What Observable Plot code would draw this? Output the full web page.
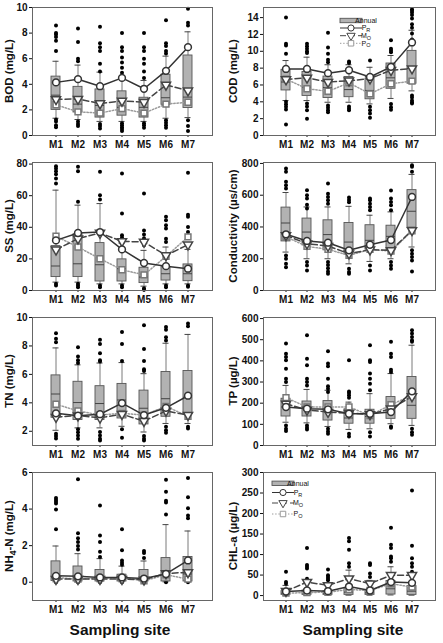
<!DOCTYPE html>
<html>
<head>
<meta charset="utf-8">
<script src="https://cdn.jsdelivr.net/npm/d3@7"></script>
<script src="https://cdn.jsdelivr.net/npm/@observablehq/plot@0.6"></script>
<style>
  body { margin: 0; background: #fff; font-family: Arial, "Liberation Sans", sans-serif; }
  #fig { position: relative; width: 443px; height: 643px; overflow: hidden; }
  #fig svg { position: absolute; }
  .xtitle { position: absolute; font-weight: bold; font-size: 15.5px; color: #111; transform: translateX(-50%); white-space: nowrap; }
</style>
</head>
<body>
<div id="fig"></div>
<script>
// Sampling sites along the river
const sites = ["M1", "M2", "M3", "M4", "M5", "M6", "M7"];

// Box statistics per site: [10th pct, 25th pct, median, 75th pct, 90th pct]
// Seasonal means per site: PR, MO, PO; outliers: values beyond the whiskers

// BOD (mg/L)
const bodTicks = [0, 2, 4, 6, 8, 10];
const bodBox = [
  [1.35, 2.0, 3.15, 4.6, 5.8],
  [1.25, 1.8, 2.45, 3.8, 5.5],
  [1.1, 1.4, 2.35, 3.6, 4.95],
  [1.1, 1.55, 2.2, 3.45, 4.4],
  [1.1, 1.4, 2.2, 2.95, 4.3],
  [1.35, 2.4, 2.95, 4.75, 6.2],
  [1.4, 2.15, 3.0, 6.25, 8.1]
];
const bodPR = [4.15, 4.4, 3.85, 4.5, 3.65, 5.05, 6.9];
const bodMO = [2.83, 2.85, 2.5, 2.7, 2.6, 3.95, 3.5];
const bodPO = [2.4, 1.85, 1.75, 2.1, 1.75, 2.45, 2.6];
const bodOut = [
  [8.6, 8.0, 7.9, 7.7, 7.4, 6.6, 1.25, 1.1, 0.8, 0.65],
  [8.35, 7.3, 6.0, 5.8, 1.1, 0.9, 0.75],
  [8.5, 7.2, 6.9, 6.6, 5.6, 5.0, 0.9, 0.75, 0.55],
  [8.0, 6.9, 6.6, 6.1, 5.7, 5.3, 4.9, 4.6, 0.95, 0.8, 0.65, 0.5, 0.35],
  [8.0, 6.9, 6.6, 6.0, 5.6, 5.0, 4.5, 0.95, 0.8, 0.6],
  [9.0, 7.2, 7.0, 6.6, 6.4, 1.2, 1.0, 0.8, 0.6],
  [9.9, 8.8, 8.6, 1.2, 0.75, 0.35]
];

// COD (mg/L)
const codTicks = [0, 2, 4, 6, 8, 10, 12, 14];
const codBox = [
  [4.15, 5.35, 6.35, 7.8, 8.9],
  [4.15, 4.7, 5.75, 7.55, 9.3],
  [3.95, 4.45, 5.7, 7.0, 8.4],
  [3.95, 4.55, 5.45, 6.95, 8.4],
  [3.75, 4.3, 5.35, 6.75, 8.1],
  [4.4, 5.55, 6.85, 8.55, 9.5],
  [5.3, 6.15, 7.95, 10.05, 12.5]
];
const codPR = [7.9, 7.9, 7.4, 7.75, 6.95, 8.15, 11.05];
const codMO = [6.65, 6.85, 6.35, 6.5, 6.75, 7.75, 7.95];
const codPO = [6.7, 5.55, 5.25, 6.25, 4.95, 6.15, 6.45];
const codOut = [
  [14.0, 10.9, 10.7, 9.7, 4.0, 3.7, 3.4, 3.1, 1.3],
  [10.9, 10.6, 10.3, 10.0, 9.8, 3.8, 3.45, 3.0, 2.0],
  [12.2, 10.45, 9.7, 9.0, 8.7, 3.55, 3.3, 3.0, 2.75],
  [8.8, 8.6, 3.45, 3.2, 3.0],
  [8.9, 3.4, 3.0, 2.6, 2.1],
  [11.3, 10.3, 10.1, 9.9, 3.75, 3.35, 3.05],
  [15.0, 14.8, 14.6, 14.3, 13.9, 13.2, 12.8, 12.1, 11.4, 4.75, 4.5, 4.15, 3.95, 3.8]
];

// SS (mg/L)
const ssTicks = [0, 20, 40, 60, 80];
const ssBox = [
  [5.3, 8.5, 15.5, 28.1, 63.5],
  [5.3, 8.5, 16.9, 35.6, 54],
  [4.2, 5.7, 16.3, 30, 55],
  [4.2, 5.7, 13.8, 19.7, 30],
  [2.75, 4.7, 8.5, 14.4, 25.4],
  [4.2, 6.3, 10.6, 14.8, 27.5],
  [4.2, 5.9, 10.6, 16.5, 26]
];
const ssPR = [31.7, 36.4, 37, 26, 17.4, 15.4, 13.8];
const ssMO = [25.8, 32.8, 36.4, 31.1, 30.7, 22.2, 29];
const ssPO = [34.3, 27.5, 20.1, 13.1, 9.9, 21.6, 33.9];
const ssOut = [
  [78.7, 77.2, 75.5, 73.6, 70.9, 67.7, 4.2, 3.2],
  [78.3, 75.5, 56.1, 4.2, 3.2, 2.1],
  [75.1, 60.3, 57.6, 3.2, 2.1],
  [74, 48.7, 34.9, 33.5, 32, 3.2, 2.1],
  [61.4, 38, 35.5, 33, 30.7, 28.6, 1.5, 0.4],
  [46.6, 44.4, 41.3, 39.2, 32.8, 30.7, 3.2, 2.1],
  [74.5, 48, 46.6, 40.2, 37, 3.2, 2.4]
];

// Conductivity (µs/cm)
const ecTicks = [0, 200, 400, 600, 800];
const ecBox = [
  [242, 309, 425, 522, 617],
  [200, 284, 368, 453, 526],
  [200, 253, 352, 442, 526],
  [168, 227, 305, 425, 530],
  [183, 257, 316, 411, 474],
  [200, 253, 341, 408, 495],
  [274, 396, 499, 632, 731]
];
const ecPR = [354, 312, 301, 253, 288, 318, 589];
const ecMO = [347, 295, 280, 232, 257, 253, 379];
const ecPO = [337, 278, 259, 221, 259, 248, 375];
const ecOut = [
  [768, 747, 684, 663, 642, 221, 200, 168, 147],
  [632, 600, 579, 540, 516, 179, 158, 126],
  [674, 610, 589, 568, 547, 179, 160, 140, 120, 105],
  [585, 570, 555, 137, 116, 105],
  [579, 568, 547, 526, 505, 158, 126],
  [630, 579, 558, 537, 505, 179, 158, 137],
  [789, 779, 747, 253, 232, 211, 189, 120]
];

// TN (mg/L)
const tnTicks = [2, 4, 6, 8, 10];
const tnBox = [
  [2.07, 2.95, 4.62, 5.93, 7.86],
  [2.24, 2.79, 4.02, 5.48, 6.67],
  [2.24, 2.79, 3.95, 5.17, 6.8],
  [2.35, 2.9, 4.2, 5.33, 6.83],
  [1.95, 2.48, 3.62, 4.86, 6.05],
  [2.55, 3.02, 4.29, 6.17, 8.19],
  [2.55, 3.21, 4.4, 6.24, 8.81]
];
const tnPR = [3.26, 3.1, 3.2, 3.98, 3.14, 3.65, 4.5];
const tnMO = [3.0, 3.1, 2.95, 3.2, 2.71, 3.43, 3.14];
const tnPO = [3.9, 3.43, 3.15, 3.26, 3.14, 3.75, 3.05];
const tnOut = [
  [8.9, 8.5, 8.26, 1.83, 1.67, 1.5],
  [7.9, 7.26, 7.0, 6.8, 2.14, 1.93, 1.71, 1.48],
  [8.43, 8.14, 7.48, 7.0, 6.9, 1.95, 1.71, 1.48, 1.35],
  [8.98, 8.14, 6.95, 2.14, 1.55],
  [9.45, 7.79, 6.95, 6.36, 6.24, 1.67, 1.48, 1.35],
  [9.33, 9.14, 8.62, 8.38, 2.31, 2.07, 1.9],
  [9.57, 9.38, 2.31, 2.19]
];

// TP (µg/L)
const tpTicks = [0, 100, 200, 300, 400, 500, 600];
const tpBox = [
  [110, 137, 182, 221, 284],
  [107, 137, 175, 208, 265],
  [90, 118, 165, 210, 261],
  [76, 103, 130, 171, 205],
  [79, 103, 137, 169, 245],
  [103, 126, 182, 229, 340],
  [95, 126, 190, 324, 474]
];
const tpPR = [182, 174, 171, 150, 150, 158, 256];
const tpMO = [197, 168, 158, 153, 147, 174, 232];
const tpPO = [226, 182, 182, 182, 142, 193, 237];
const tpOut = [
  [482, 434, 418, 403, 363, 316, 300, 95, 79, 68],
  [521, 410, 379, 316, 300, 284, 95, 84, 76],
  [445, 387, 374, 316, 280, 268, 253, 79, 66, 55],
  [403, 255, 248, 237, 226, 55, 43],
  [474, 403, 395, 340, 316, 292, 261, 63, 43],
  [490, 434, 418, 358, 347, 90, 84],
  [545, 529, 513, 497, 490, 79, 63, 51]
];

// NH4-N (mg/L)
const nhTicks = [0, 2, 4, 6];
const nhBox = [
  [0.02, 0.07, 0.26, 1.14, 1.98],
  [0.02, 0.04, 0.26, 0.86, 1.56],
  [0.02, 0.04, 0.2, 0.67, 1.29],
  [0.02, 0.04, 0.17, 0.41, 0.88],
  [0.02, 0.04, 0.17, 0.67, 1.16],
  [0.02, 0.04, 0.35, 1.32, 3.15],
  [0.02, 0.04, 0.45, 1.38, 2.8]
];
const nhPR = [0.35, 0.32, 0.26, 0.26, 0.2, 0.45, 1.19];
const nhMO = [0.17, 0.17, 0.17, 0.17, 0.13, 0.48, 0.54];
const nhPO = [0.26, 0.17, 0.22, 0.26, 0.07, 0.41, 0.17];
const nhOut = [
  [4.6, 4.5, 4.4, 4.3, 3.98, 2.9, 0],
  [5.63, 2.68, 2.4, 2.2, 1.98, 1.79, 0],
  [4.2, 2.55, 2.2, 1.66, 1.38, 0],
  [2.9, 1.75, 1.19, 1.06, 0.95, 0],
  [1.71, 1.6, 1.32, 0],
  [5.6, 4.95, 4.45, 4.36, 3.7, 0],
  [5.7, 4.65, 4.05, 3.65, 3.5, 0]
];

// CHL-a (µg/L)
const chlTicks = [0, 50, 100, 150, 200, 250, 300];
const chlBox = [
  [1, 1.7, 5.8, 10.7, 24.8],
  [1, 1.7, 5.8, 12.4, 33],
  [1, 1.7, 5.8, 10.7, 29],
  [1, 1.7, 8.3, 18.2, 62],
  [1, 1.7, 6.6, 14, 37],
  [1.5, 2.5, 16.5, 35.5, 70.2],
  [1, 1.7, 10.7, 23.1, 53.7]
];
const chlPR = [9.9, 12.4, 10.7, 22, 12.4, 33, 31];
const chlMO = [10.7, 33, 24.8, 41.3, 29, 49.6, 49.6];
const chlPO = [5.8, 7.4, 8.3, 14.9, 12.4, 28.9, 20.7];
const chlOut = [
  [57.9, 33, 29],
  [115.7, 74.4, 70.2, 66, 41.3],
  [63.6, 49.6, 45.5, 41.3, 37.2],
  [140.5, 132.2, 111.6, 78.5, 70.2],
  [78.5, 74.4, 53.7, 45.5],
  [165.3, 124, 115.7, 95, 91, 82.6],
  [256, 121.5, 91, 78.5, 70.2, 57.9]
];

// Styling
const FONT = 'Arial, "Liberation Sans", sans-serif';
const BOX_FILL = "#b2b2b2", BOX_STROKE = "#555";
const PR_STROKE = "#333", MO_STROKE = "#444", PO_STROKE = "#9a9a9a";
const MO_DASH = "6,3", PO_DASH = "1.4,1.8";

// Downward-pointing triangle symbol for the MO series
const triangleDown = {
  draw(ctx, size) {
    const s = Math.sqrt((4 * size) / Math.sqrt(3));
    const h = (Math.sqrt(3) / 2) * s;
    ctx.moveTo(0, (2 * h) / 3);
    ctx.lineTo(s / 2, -h / 3);
    ctx.lineTo(-s / 2, -h / 3);
    ctx.closePath();
  }
};

const panels = [
  {box: bodBox, pr: bodPR, mo: bodMO, po: bodPO, out: bodOut, domain: [0, 10], ticks: bodTicks, label: [["BOD (mg/L)"]], col: 0, row: 0},
  {box: codBox, pr: codPR, mo: codMO, po: codPO, out: codOut, domain: [0, 15.2], ticks: codTicks, label: [["COD (mg/L)"]], col: 1, row: 0, legend: {x: 118, ys: [20.5, 28, 35.7, 43.3], w: 22}},
  {box: ssBox, pr: ssPR, mo: ssMO, po: ssPO, out: ssOut, domain: [0, 81], ticks: ssTicks, label: [["SS (mg/L)"]], col: 0, row: 1},
  {box: ecBox, pr: ecPR, mo: ecMO, po: ecPO, out: ecOut, domain: [0, 806], ticks: ecTicks, label: [["Conductivity (µs/cm)"]], col: 1, row: 1},
  {box: tnBox, pr: tnPR, mo: tnMO, po: tnPO, out: tnOut, domain: [1, 10], ticks: tnTicks, label: [["TN (mg/L)"]], col: 0, row: 2},
  {box: tpBox, pr: tpPR, mo: tpMO, po: tpPO, out: tpOut, domain: [0, 605], ticks: tpTicks, label: [["TP (µg/L)"]], col: 1, row: 2},
  {box: nhBox, pr: nhPR, mo: nhMO, po: nhPO, out: nhOut, domain: [-1, 6], ticks: nhTicks, label: [["NH"], ["4", "sub"], ["-N (mg/L)"]], col: 0, row: 3},
  {box: chlBox, pr: chlPR, mo: chlMO, po: chlPO, out: chlOut, domain: [-12, 300], ticks: chlTicks, label: [["CHL-a (µg/L)"]], col: 1, row: 3, legend: {x: 50, ys: [18.3, 27.5, 38, 49], w: 22}}
];

const PANEL_W = 221, PANEL_H = 155, FRAME_TOP = 7, FRAME_BOTTOM = 135;

function addLegend(svg, {x, ys, w}) {
  const g = svg.append("g").attr("font-size", 7).attr("font-weight", "normal").attr("fill", "#111");
  const tx = x + w + 4, cx = x + w / 2;
  g.append("rect").attr("x", x).attr("y", ys[0] - 2.2).attr("width", w).attr("height", 4.4)
    .attr("fill", BOX_FILL).attr("stroke", BOX_STROKE).attr("stroke-width", 0.9);
  const rows = [
    {y: ys[1], stroke: PR_STROKE, dash: null, sym: d3.symbolCircle, name: "P", sub: "R"},
    {y: ys[2], stroke: MO_STROKE, dash: MO_DASH, sym: triangleDown, name: "M", sub: "O"},
    {y: ys[3], stroke: PO_STROKE, dash: PO_DASH, sym: d3.symbolSquare, name: "P", sub: "O"}
  ];
  for (const r of rows) {
    g.append("line").attr("x1", x).attr("x2", x + w).attr("y1", r.y).attr("y2", r.y)
      .attr("stroke", r.stroke).attr("stroke-dasharray", r.dash);
    g.append("path").attr("d", d3.symbol(r.sym, 30)()).attr("transform", `translate(${cx},${r.y})`)
      .attr("fill", "#fff").attr("stroke", r.stroke);
    const t = g.append("text").attr("x", tx).attr("y", r.y).attr("dy", "0.32em");
    t.append("tspan").text(r.name);
    t.append("tspan").attr("font-size", 5.5).attr("dy", 1.8).text(r.sub);
  }
  g.append("text").attr("x", tx).attr("y", ys[0]).attr("dy", "0.32em").text("Annual");
}

const fig = document.getElementById("fig");
const tickFmt = d3.format("~g");

for (const p of panels) {
  const left = p.col === 0;
  const stats = sites.map((s, i) => ({site: s, lo: p.box[i][0], q1: p.box[i][1], med: p.box[i][2], q3: p.box[i][3], hi: p.box[i][4]}));
  const means = sites.map((s, i) => ({site: s, pr: p.pr[i], mo: p.mo[i], po: p.po[i]}));
  const pts = p.out.flatMap((vs, i) => vs.map((v) => ({site: sites[i], v})));
  const mL = left ? 32 : 41, mR = left ? 9 : 8;
  const x0 = p.col * 222, y0 = p.row * 155;

  // Rotated y-axis title in its own layer, centred on the frame
  const tsvg = d3.create("svg").attr("width", 22).attr("height", PANEL_H)
    .style("left", x0 + "px").style("top", y0 + "px");
  const title = tsvg.append("text")
    .attr("transform", `translate(${left ? 9 : 11},${(FRAME_TOP + FRAME_BOTTOM) / 2}) rotate(-90)`)
    .attr("text-anchor", "middle").attr("dy", "0.35em")
    .attr("font-family", FONT).attr("font-size", 11.5).attr("font-weight", "bold").attr("fill", "#111");
  let shifted = false;
  for (const [txt, kind] of p.label) {
    if (kind === "sub") {
      title.append("tspan").attr("font-size", 8.5).attr("dy", 2.6).text(txt);
      shifted = true;
    } else {
      const ts = title.append("tspan").text(txt);
      if (shifted) { ts.attr("dy", -2.6); shifted = false; }
    }
  }
  fig.appendChild(tsvg.node());

  const chart = Plot.plot({
    width: PANEL_W,
    height: PANEL_H,
    marginLeft: mL,
    marginRight: mR,
    marginTop: FRAME_TOP,
    marginBottom: PANEL_H - FRAME_BOTTOM,
    style: {fontFamily: FONT, fontSize: "10px", fontWeight: "bold", color: "#111", background: "transparent", overflow: "visible"},
    x: {type: "band", domain: sites, paddingInner: 0.57, paddingOuter: left ? 0.82 : 0.7, label: null, tickSize: 2, tickPadding: 3},
    y: {domain: p.domain, ticks: p.ticks, tickFormat: tickFmt, label: null, tickSize: 3, tickPadding: 2},
    marks: [
      Plot.ruleX(stats, {x: "site", y1: "lo", y2: "q1", stroke: "#7a7a7a"}),
      Plot.ruleX(stats, {x: "site", y1: "q3", y2: "hi", stroke: "#7a7a7a"}),
      Plot.tickY(stats, {x: "site", y: "lo", stroke: "#444", insetLeft: 1.5, insetRight: 1.5}),
      Plot.tickY(stats, {x: "site", y: "hi", stroke: "#444", insetLeft: 1.5, insetRight: 1.5}),
      Plot.dot(pts, {x: "site", y: "v", r: 2, fill: "#000", stroke: "none"}),
      Plot.barY(stats, {x: "site", y1: "q1", y2: "q3", fill: BOX_FILL, stroke: BOX_STROKE, strokeWidth: 0.9}),
      Plot.tickY(stats, {x: "site", y: "med", stroke: "#444"}),
      Plot.line(means, {x: "site", y: "po", stroke: PO_STROKE, strokeDasharray: PO_DASH}),
      Plot.line(means, {x: "site", y: "mo", stroke: MO_STROKE, strokeDasharray: MO_DASH}),
      Plot.line(means, {x: "site", y: "pr", stroke: PR_STROKE}),
      Plot.dot(means, {x: "site", y: "po", symbol: "square", r: 3.3, fill: "#fff", stroke: "#777"}),
      Plot.dot(means, {x: "site", y: "mo", symbol: triangleDown, r: 3.4, fill: "#fff", stroke: MO_STROKE}),
      Plot.dot(means, {x: "site", y: "pr", symbol: "circle", r: 3.4, fill: "#fff", stroke: PR_STROKE}),
      Plot.frame({stroke: "#666"})
    ]
  });

  chart.style.left = x0 + "px";
  chart.style.top = y0 + "px";
  if (p.legend) addLegend(d3.select(chart), p.legend);
  fig.appendChild(chart);
}

// X-axis titles under the bottom row
for (const [cx, text] of [[120, "Sampling site"], [353, "Sampling site"]]) {
  const d = document.createElement("div");
  d.className = "xtitle";
  d.style.left = cx + "px";
  d.style.top = "621px";
  d.textContent = text;
  fig.appendChild(d);
}
</script>
</body>
</html>
